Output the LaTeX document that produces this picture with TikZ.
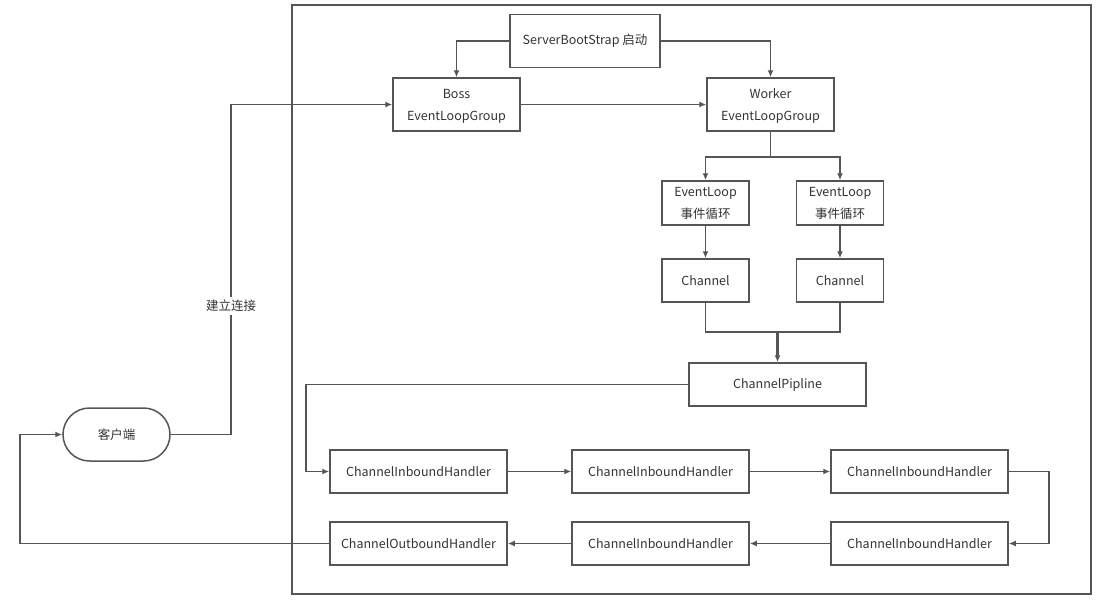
\documentclass[tikz,border=0pt]{standalone}
\usepackage{fontspec}
\setmainfont{Noto Sans CJK SC}
\usetikzlibrary{arrows.meta}
\definecolor{ln}{HTML}{555555}
\definecolor{tx}{HTML}{333333}

\begin{document}
\begin{tikzpicture}[x=1pt,y=-1pt,
    line width=1.6pt, draw=ln, text=tx,
    font=\fontsize{12.5}{22}\selectfont,
    >={Latex[length=7pt,width=6pt]}, ->,
    box/.style={draw, line width=1.5pt, minimum height=53pt, align=center, inner sep=0pt},
    hbox/.style={box, minimum width=177pt, minimum height=43pt},
    sbox/.style={box, minimum width=87pt, minimum height=44pt}]
    \useasboundingbox (0,0) rectangle (1099,602);
    \node[draw, line width=1.5pt, minimum width=799pt, minimum height=589pt, inner sep=0pt] (frame) at (691.5,299.5) {};
    \node[box, minimum width=150pt] (sbs) at (585,41) {ServerBootStrap 启动};
    \node[box, minimum width=127pt, yshift=-2pt, text depth=0pt] (boss) at (456.5,102.5) {Boss\\EventLoopGroup};
    \node[box, minimum width=127pt, yshift=-2pt, text depth=0pt] (worker) at (770.5,102.5) {Worker\\EventLoopGroup};
    \node[sbox] (el1) at (705.5,203) {EventLoop\\事件循环};
    \node[sbox] (el2) at (840,203) {EventLoop\\事件循环};
    \node[sbox, minimum height=43pt] (ch1) at (705.5,280.5) {Channel};
    \node[sbox, minimum height=43pt] (ch2) at (840,280.5) {Channel};
    \node[hbox] (pipe) at (777.5,384.5) {ChannelPipline};
    \node[hbox] (h1) at (418.5,471.5) {ChannelInboundHandler};
    \node[hbox] (h2) at (660.5,471.5) {ChannelInboundHandler};
    \node[hbox] (h3) at (919.5,471.5) {ChannelInboundHandler};
    \node[hbox] (h6) at (919.5,543.5) {ChannelInboundHandler};
    \node[hbox] (h5) at (660.5,543.5) {ChannelInboundHandler};
    \node[hbox] (h4) at (418.5,543.5) {ChannelOutboundHandler};
    \node[box, minimum width=107pt, rounded corners=26.5pt] (client) at (116.5,434.5) {客户端};
    % bends
    \coordinate (split) at (770.5,157);
    \coordinate (join) at (777.5,332);
    \coordinate (pl) at (306,384.5);
    \coordinate (rt) at (1049,471.5);
    \coordinate (c1) at (231,434.5);
    \coordinate (c2) at (231,104.5);
    \coordinate (c3) at (20,543.5);
    \draw (sbs.west) -| (boss.north);
    \draw (sbs.east) -| (worker.north);
    \draw (boss) -- (worker);
    \draw[-] (worker.south) -- (split);
    \draw (split) -| (el1.north);
    \draw (split) -| (el2.north);
    \draw (el1) -- (ch1);
    \draw (el2) -- (ch2);
    \draw[-] (ch1.south) |- (join);
    \draw[-] (ch2.south) |- (join);
    \draw[line width=2.4pt] (join) -- (pipe.north);
    \draw (pipe.west) -- (pl) |- (h1.west);
    \draw (h1) -- (h2);
    \draw (h2) -- (h3);
    \draw (h3.east) -- (rt) |- (h6.east);
    \draw (h6) -- (h5);
    \draw (h5) -- (h4);
    \draw (client.east) -- (c1) -- node[pos=0.39, fill=white, inner sep=3pt] {建立连接} (c2) -- (boss.west);
    \draw (h4.west) -- (c3) |- (client.west);
\end{tikzpicture}
\end{document}
